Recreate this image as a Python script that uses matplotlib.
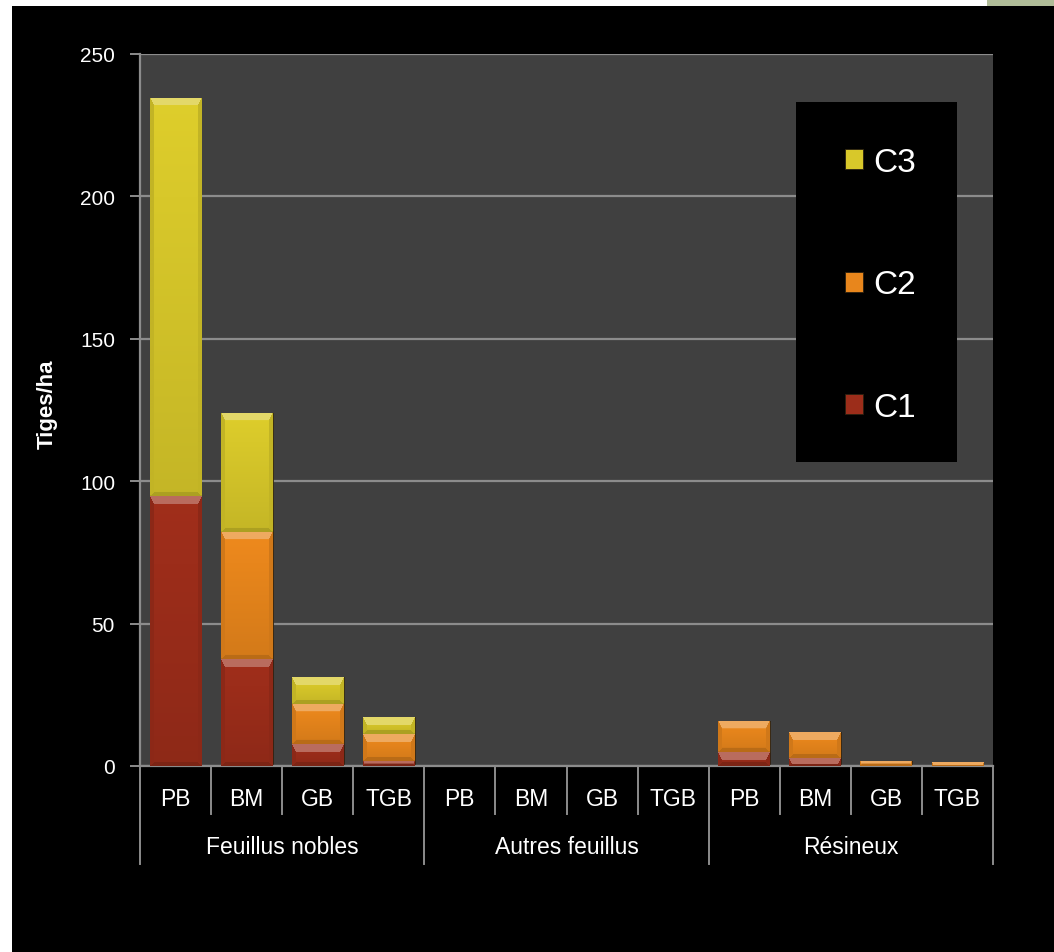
import numpy as np
import matplotlib
matplotlib.use("Agg")
import matplotlib.pyplot as plt
from matplotlib import font_manager
from matplotlib.colors import to_rgb
from matplotlib.patches import Rectangle
from matplotlib.transforms import blended_transform_factory

# stems per hectare by diameter class, for three species groups
groups = ["Feuillus nobles", "Autres feuillus", "Résineux"]
sizes = ["PB", "BM", "GB", "TGB"]
c1 = [94.7, 37.5, 7.7, 1.9, 0, 0, 0, 0, 4.9, 2.7, 0, 0]
c2 = [0, 44.6, 14.1, 9.4, 0, 0, 0, 0, 11.0, 9.1, 1.8, 1.4]
c3 = [139.9, 41.9, 9.4, 5.8, 0, 0, 0, 0, 0, 0, 0, 0]
yticks = [0, 50, 100, 150, 200, 250]

colors = {"C1": "#9c2d1a", "C2": "#e8861c", "C3": "#d8c82a"}

W, H = 1054, 953
names = {f.name for f in font_manager.fontManager.ttflist}
NARROW = "Liberation Sans Narrow" if "Liberation Sans Narrow" in names else "Liberation Sans"
plt.rcParams["font.family"] = ["Liberation Sans", "DejaVu Sans"]


def bevel(ax, patch, color, px_per_unit_x, px_per_unit_y, c=8):
    """Paint a chamfered, shaded fill over a bar patch."""
    x, y = patch.get_x(), patch.get_y()
    w, h = patch.get_width(), patch.get_height()
    if h <= 0:
        return
    nw = max(int(round(w * px_per_unit_x)), 2)
    nh = max(int(round(h * px_per_unit_y)), 2)
    base = np.array(to_rgb(color))
    img = np.zeros((nh, nw, 3))
    ii, jj = np.mgrid[0:nh, 0:nw]
    # vertical shading, lighter at top
    t = ii / max(nh - 1, 1)
    shade = 1.03 - 0.12 * t
    img[:] = np.clip(base * shade[..., None], 0, 1)
    d_top, d_bot = ii, nh - 1 - ii
    d_left, d_right = jj * 2.2, (nw - 1 - jj) * 2.2
    d_bot = d_bot * 2.5
    m = np.minimum.reduce([d_top, d_bot, d_left, d_right])
    edge = m < c
    top = edge & (d_top == m)
    bot = edge & (d_bot == m) & ~top
    side = edge & ~top & ~bot
    img[top] = np.clip(base + (1 - base) * 0.3, 0, 1)
    img[bot] = base * 0.8
    img[side] = base * 0.9
    im = ax.imshow(img, extent=(x, x + w, y, y + h), origin="upper",
                   aspect="auto", interpolation="bilinear", zorder=3)
    im.set_clip_path(patch)


fig = plt.figure(figsize=(W / 100, H / 100), dpi=100, facecolor="white")
fig.patches.append(Rectangle((12 / W, 0), 1, (H - 7) / H, transform=fig.transFigure,
                             facecolor="black", edgecolor="none", zorder=-10))
fig.patches.append(Rectangle((987 / W, (H - 7) / H), 1, 1, transform=fig.transFigure,
                             facecolor="#b0bc98", edgecolor="none", zorder=-10))

left, right, top, bottom = 140, 993, 55, 767
ax = fig.add_axes([left / W, (H - bottom) / H, (right - left) / W, (bottom - top) / H])
ax.set_facecolor("#404040")

n = len(c1)
x = np.arange(n)
width = 0.73
ax.set_xlim(-0.5, n - 0.5)
ax.set_ylim(0, 250)

ppx = (right - left) / n
ppy = (bottom - top) / 250

b1 = np.array(c1)
b2 = b1 + np.array(c2)
series = [("C1", c1, 0), ("C2", c2, b1), ("C3", c3, b2)]
for name, vals, base in series:
    bars = ax.bar(x, vals, width, bottom=base, color=colors[name],
                  edgecolor="#2a2010", linewidth=0.6, zorder=2, label=name)
    for p in bars:
        bevel(ax, p, colors[name], ppx, ppy)

grid_c = "#8c8c8c"
ax.set_yticks(yticks)
ax.yaxis.grid(True, color=grid_c, linewidth=1.6, zorder=0)
ax.set_axisbelow(True)
ax.tick_params(axis="y", colors=grid_c, length=7, width=1.4, pad=11,
               labelcolor="white", labelsize=15)
ax.set_xticks([])
for s in ["top", "right"]:
    ax.spines[s].set_visible(False)
for s in ["left", "bottom"]:
    ax.spines[s].set_color(grid_c)
    ax.spines[s].set_linewidth(1.6)

ax.set_ylabel("Tiges/ha", color="white", fontsize=16, fontweight="bold",
              family=[NARROW, "DejaVu Sans"])
ax.yaxis.set_label_coords((58 - left) / (right - left), 0.51)

# two-level category axis under the plot
tr = blended_transform_factory(ax.transData, ax.transAxes)
span = bottom - top
short = -48 / span
long_ = -98 / span
for k in range(n + 1):
    xs = k - 0.5
    yb = long_ if k % 4 == 0 else short
    ax.plot([xs, xs], [0, yb], color=grid_c, linewidth=1.4, transform=tr,
            clip_on=False, zorder=1)
for k in range(n):
    ax.text(k, -33 / span, sizes[k % 4], transform=tr, ha="center", va="center",
            color="white", fontsize=16.5, family=[NARROW, "DejaVu Sans"])
for g, name in enumerate(groups):
    ax.text(4 * g + 1.5, -81 / span, name, transform=tr, ha="center", va="center",
            color="white", fontsize=16.5, family=[NARROW, "DejaVu Sans"])

# legend inside a black box
bx0, bx1, by0, by1 = 796, 957, 103, 463
ax.add_patch(Rectangle(((bx0 - left) / (right - left), (bottom - by1) / span),
                       (bx1 - bx0) / (right - left), (by1 - by0) / span,
                       transform=ax.transAxes, facecolor="black", edgecolor="none",
                       zorder=4))
handles, labels = ax.get_legend_handles_labels()
leg = ax.legend(handles[::-1], labels[::-1], loc="center",
                bbox_to_anchor=(((bx0 + bx1) / 2 + 4 - left) / (right - left),
                                (bottom - (by0 + by1) / 2 - 3) / span),
                frameon=False, labelcolor="white",
                prop={"family": [NARROW, "DejaVu Sans"], "size": 24},
                handlelength=0.55, handleheight=0.55, handletextpad=0.3,
                labelspacing=2.75)
leg.set_zorder(5)

fig.savefig("out.png", dpi=100, facecolor=fig.get_facecolor())
